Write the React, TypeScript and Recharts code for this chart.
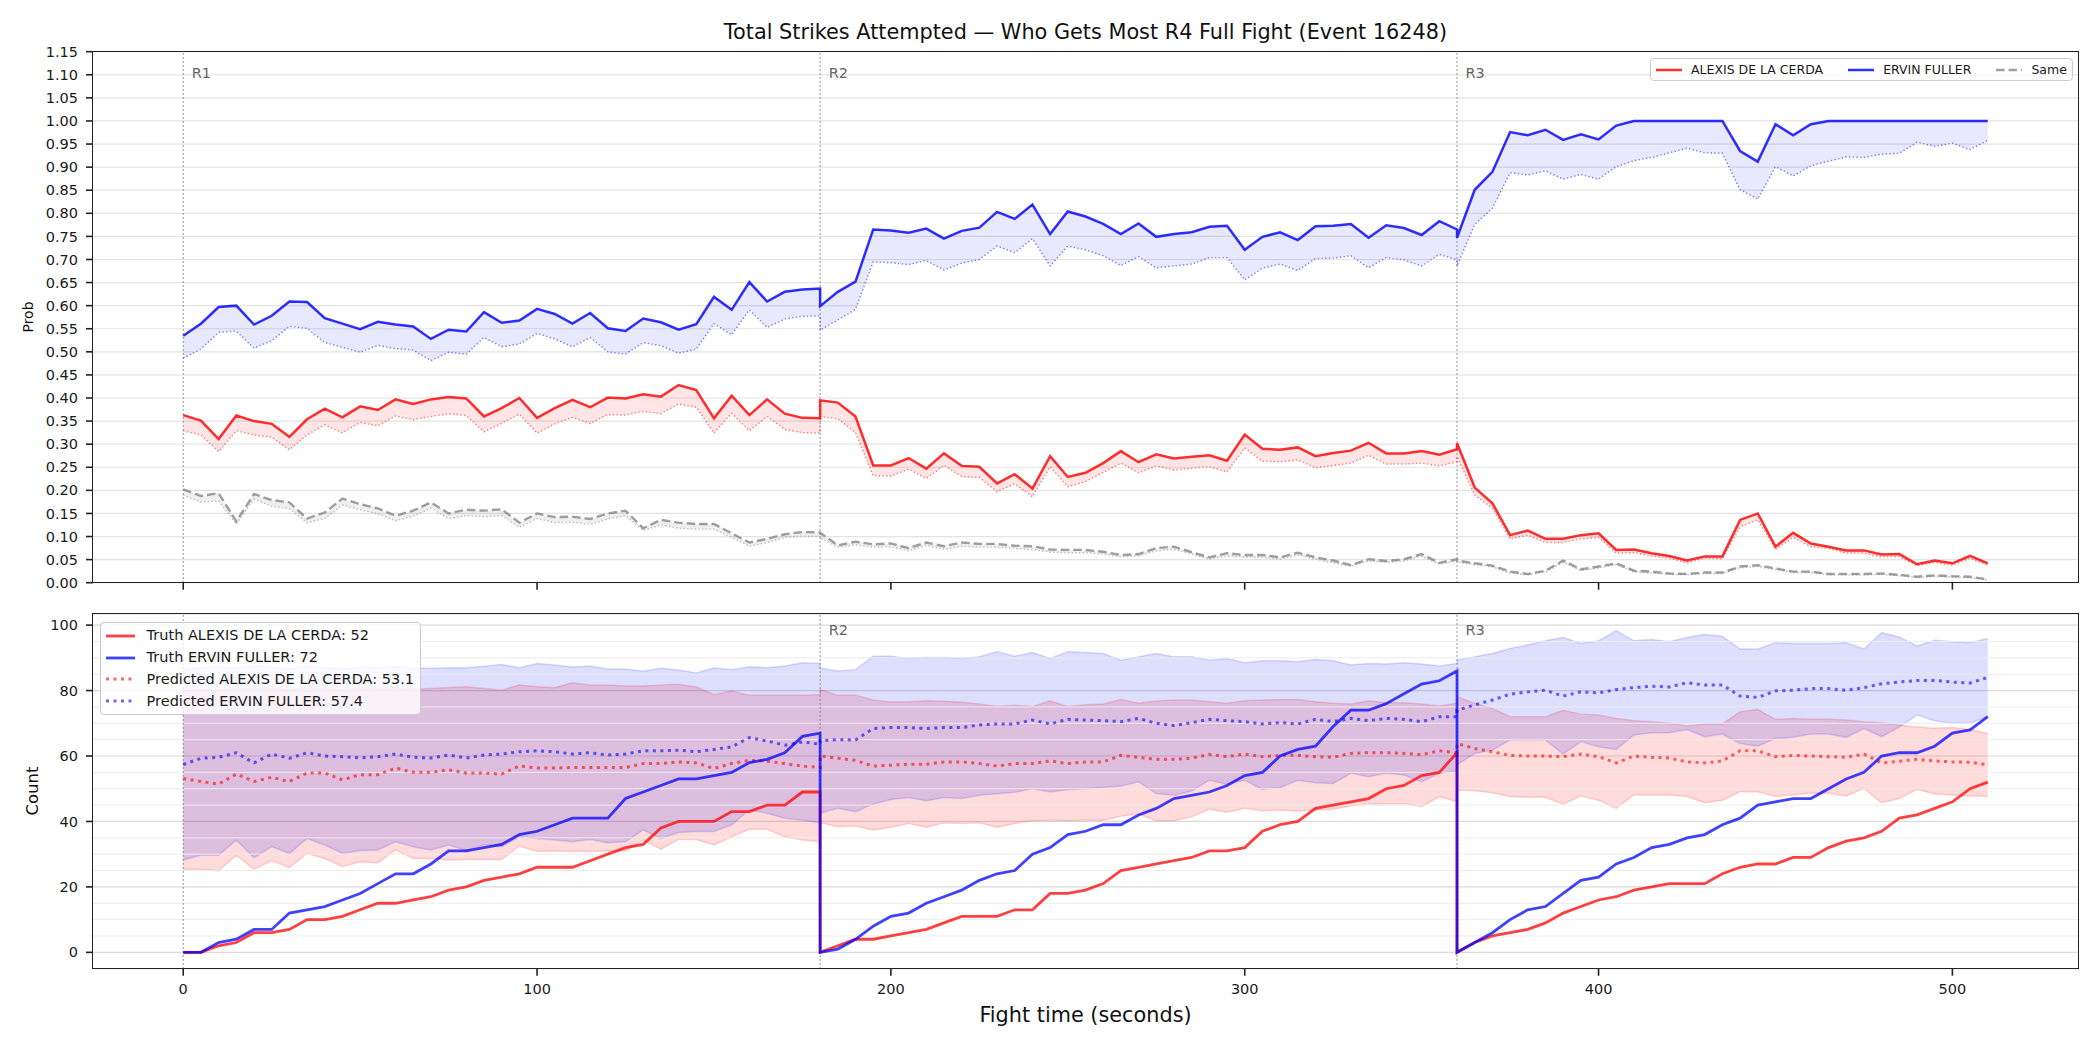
import React from "react";
import {
  ComposedChart,
  Line,
  Area,
  XAxis,
  YAxis,
  CartesianGrid,
  ReferenceLine,
} from "recharts";

const FONT = "'DejaVu Sans', Verdana, sans-serif";
const RED = "#ff0000";
const BLUE = "#0000ff";
const GREY = "#808080";

const fighters = ["ALEXIS DE LA CERDA", "ERVIN FULLER"];
const chartTitle = "Total Strikes Attempted — Who Gets Most R4 Full Fight (Event 16248)";

// fight time in seconds, one row per 5 s; each round restarts at its boundary
const seconds = [
  0, 5, 10, 15, 20, 25, 30, 35, 40, 45, 50, 55, 60, 65, 70, 75, 80, 85, 90, 95,
  100, 105, 110, 115, 120, 125, 130, 135, 140, 145, 150, 155, 160, 165, 170, 175, 180,
  180, 185, 190, 195, 200, 205, 210, 215, 220, 225, 230, 235, 240, 245, 250, 255, 260, 265,
  270, 275, 280, 285, 290, 295, 300, 305, 310, 315, 320, 325, 330, 335, 340, 345, 350, 355, 360,
  360, 365, 370, 375, 380, 385, 390, 395, 400, 405, 410, 415, 420, 425, 430, 435, 440,
  445, 450, 455, 460, 465, 470, 475, 480, 485, 490, 495, 500, 505, 510,
];

const timeTicks = [0, 100, 200, 300, 400, 500];
const probTicks = [
  0, 0.05, 0.1, 0.15, 0.2, 0.25, 0.3, 0.35, 0.4, 0.45, 0.5, 0.55,
  0.6, 0.65, 0.7, 0.75, 0.8, 0.85, 0.9, 0.95, 1.0, 1.05, 1.1, 1.15,
];
const countTicks = [0, 20, 40, 60, 80, 100];
const countMinor = [5, 10, 15, 25, 30, 35, 45, 50, 55, 65, 70, 75, 85, 90, 95];
const roundStarts = [0, 180, 360];
const roundNames = ["R1", "R2", "R3"];

// ---- top panel: probabilities ----
const probRed = [
  .363, .351, .311, .362, .350, .344, .316, .354, .377, .358,
  .382, .374, .397, .387, .397, .402, .399, .360, .378, .400,
  .357, .378, .396, .380, .401, .399, .408, .403, .428, .417,
  .356, .405, .363, .397, .366, .357, .356,
  .395, .390, .360, .254, .254, .270, .247, .280, .253, .251,
  .215, .235, .204, .274, .229, .238, .259, .285, .261, .278,
  .269, .273, .276, .264, .321, .290, .288, .293, .274, .281,
  .286, .303, .280, .280, .285, .277, .289,
  .302, .206, .172, .103, .113, .095, .095, .103, .107, .071,
  .072, .064, .058, .048, .057, .057, .136, .150, .078, .108,
  .085, .078, .070, .070, .061, .062, .040, .048, .042, .058,
  .042,
];
const probRedLo = [
  .329, .320, .284, .329, .320, .315, .288, .320, .342, .325,
  .347, .340, .361, .353, .360, .366, .362, .327, .345, .365,
  .324, .344, .358, .345, .364, .363, .371, .366, .387, .380,
  .324, .367, .329, .360, .332, .325, .324,
  .360, .355, .325, .232, .231, .246, .226, .254, .230, .228,
  .197, .214, .186, .251, .208, .219, .239, .259, .238, .253,
  .244, .248, .251, .240, .292, .263, .262, .266, .249, .254,
  .259, .276, .257, .257, .259, .253, .262,
  .273, .190, .161, .095, .103, .087, .087, .095, .098, .064,
  .065, .058, .053, .043, .053, .052, .121, .136, .072, .098,
  .078, .074, .064, .064, .056, .056, .037, .044, .038, .053,
  .038,
];
const probBlue = [
  .535, .561, .597, .600, .559, .578, .609, .608, .573, .561,
  .549, .565, .559, .555, .528, .548, .544, .586, .563, .568,
  .593, .582, .561, .584, .551, .545, .572, .564, .548, .560,
  .619, .591, .651, .609, .630, .635, .637,
  .599, .630, .652, .765, .763, .758, .767, .745, .762, .769,
  .803, .788, .819, .755, .804, .793, .777, .755, .778, .749,
  .755, .759, .771, .773, .721, .749, .759, .742, .772, .773,
  .777, .747, .774, .768, .753, .783, .765,
  .747, .851, .890, .976, .969, .981, .959, .971, .960, .990,
  1, 1, 1, 1, 1, 1, .935, .912, .993, .969,
  .993, 1, 1, 1, 1, 1, 1, 1, 1, 1,
  1,
];
const probBlueLo = [
  .486, .506, .542, .545, .508, .524, .555, .551, .520, .510,
  .499, .514, .507, .504, .481, .499, .495, .531, .511, .517,
  .540, .528, .511, .531, .500, .495, .520, .513, .497, .506,
  .561, .537, .591, .553, .571, .577, .578,
  .547, .569, .592, .695, .693, .689, .698, .677, .692, .700,
  .729, .715, .745, .686, .729, .721, .708, .687, .706, .682,
  .686, .690, .704, .704, .656, .681, .690, .676, .702, .703,
  .708, .682, .704, .699, .686, .711, .699,
  .686, .776, .811, .888, .883, .892, .874, .884, .874, .901,
  .914, .921, .931, .941, .931, .930, .851, .831, .901, .881,
  .903, .913, .922, .921, .928, .930, .954, .945, .952, .938,
  .958,
];
const probSame = [
  .202, .188, .194, .133, .192, .179, .174, .139, .152, .182,
  .170, .161, .145, .156, .174, .150, .158, .156, .159, .130,
  .150, .142, .143, .138, .150, .156, .118, .136, .130, .127,
  .127, .107, .087, .095, .105, .110, .109,
  .108, .081, .089, .083, .085, .075, .087, .079, .087, .084,
  .084, .080, .079, .072, .071, .071, .067, .060, .062, .075,
  .078, .066, .055, .064, .060, .060, .055, .065, .055, .048,
  .038, .051, .047, .051, .062, .043, .051,
  .048, .042, .037, .024, .019, .026, .048, .029, .035, .042,
  .026, .024, .020, .019, .022, .022, .035, .038, .031, .024,
  .024, .019, .019, .019, .020, .017, .013, .016, .014, .013,
  .007,
];
const probSameLo = [
  .190, .174, .177, .127, .181, .166, .160, .130, .139, .168,
  .158, .149, .134, .144, .161, .139, .145, .143, .145, .120,
  .139, .130, .131, .126, .138, .145, .113, .125, .118, .116,
  .116, .098, .079, .087, .098, .101, .100,
  .097, .077, .082, .077, .078, .069, .081, .072, .079, .077,
  .077, .074, .072, .066, .065, .065, .062, .056, .058, .069,
  .072, .062, .051, .058, .055, .055, .051, .060, .051, .043,
  .036, .047, .044, .047, .057, .040, .047,
  .045, .039, .034, .021, .017, .023, .044, .026, .032, .039,
  .023, .021, .018, .017, .020, .020, .032, .035, .028, .022,
  .022, .017, .017, .017, .018, .015, .011, .014, .012, .011,
  .005,
];

// ---- bottom panel: counts ----
const countRed = [
  0, 0, 2, 3, 6, 6, 7, 10, 10, 11, 13, 15, 15, 16, 17, 19, 20, 22, 23, 24,
  26, 26, 26, 28, 30, 32, 33, 38, 40, 40, 40, 43, 43, 45, 45, 49, 49,
  0, 2, 4, 4, 5, 6, 7, 9, 11, 11, 11, 13, 13, 18, 18, 19, 21, 25, 26, 27,
  28, 29, 31, 31, 32, 37, 39, 40, 44, 45, 46, 47, 50, 51, 54, 55, 61,
  0, 3, 5, 6, 7, 9, 12, 14, 16, 17, 19, 20, 21, 21, 21, 24, 26, 27, 27, 29,
  29, 32, 34, 35, 37, 41, 42, 44, 46, 50, 52,
];
const countBlue = [
  0, 0, 3, 4, 7, 7, 12, 13, 14, 16, 18, 21, 24, 24, 27, 31, 31, 32, 33, 36,
  37, 39, 41, 41, 41, 47, 49, 51, 53, 53, 54, 55, 58, 59, 61, 66, 67,
  0, 1, 4, 8, 11, 12, 15, 17, 19, 22, 24, 25, 30, 32, 36, 37, 39, 39, 42, 44,
  47, 48, 49, 51, 54, 55, 60, 62, 63, 69, 74, 74, 76, 79, 82, 83, 86,
  0, 3, 6, 10, 13, 14, 18, 22, 23, 27, 29, 32, 33, 35, 36, 39, 41, 45, 46, 47,
  47, 50, 53, 55, 60, 61, 61, 63, 67, 68, 72,
];
const predRed = [
  53.1, 52.2, 51.4, 54.5, 52.2, 53.5, 52.2, 54.8, 54.8, 52.7,
  54.3, 54.3, 56.3, 55.0, 55.0, 55.8, 54.8, 54.8, 54.5, 57.0,
  56.3, 56.3, 56.5, 56.5, 56.5, 56.5, 57.7, 57.7, 58.2, 57.9,
  56.2, 57.7, 58.7, 58.4, 57.7, 56.9, 56.5,
  60.0, 59.3, 58.7, 56.9, 57.2, 57.5, 57.5, 58.2, 58.2, 57.7,
  56.9, 57.7, 57.7, 58.5, 57.7, 58.2, 58.2, 60.2, 59.6, 59.0,
  59.0, 59.3, 60.5, 59.8, 60.6, 59.8, 60.2, 60.2, 59.8, 59.6,
  60.8, 61.0, 61.0, 60.8, 60.4, 61.6, 61.0,
  63.8, 62.3, 61.3, 60.2, 60.0, 60.0, 59.8, 60.6, 59.8, 57.9,
  60.0, 59.6, 59.4, 58.2, 57.9, 58.5, 61.6, 61.6, 59.8, 60.2,
  60.0, 59.8, 59.6, 60.6, 57.9, 58.4, 59.0, 58.5, 58.2, 58.1,
  57.3,
];
const predBlue = [
  57.4, 59.3, 59.6, 61.0, 57.9, 60.6, 59.3, 61.0, 60.0, 59.8,
  59.4, 59.8, 60.6, 59.6, 59.4, 60.3, 59.4, 60.3, 60.6, 61.3,
  61.6, 61.3, 60.6, 61.0, 60.3, 60.6, 61.6, 61.6, 61.8, 61.3,
  62.0, 62.8, 65.6, 64.6, 63.3, 64.3, 63.6,
  64.7, 65.0, 64.9, 68.4, 68.7, 68.7, 68.4, 68.7, 68.7, 69.5,
  69.8, 69.8, 71.0, 69.8, 71.2, 71.0, 70.8, 70.5, 71.5, 70.0,
  69.3, 70.2, 71.2, 70.8, 70.5, 69.8, 70.2, 69.8, 71.2, 70.5,
  71.5, 70.8, 71.5, 71.2, 70.5, 72.0, 72.0,
  74.0, 75.6, 77.1, 78.9, 79.6, 80.1, 78.3, 79.6, 79.3, 80.3,
  80.9, 81.3, 81.1, 82.4, 81.7, 81.7, 78.3, 77.9, 79.9, 80.1,
  80.6, 80.6, 80.1, 80.9, 82.1, 82.6, 83.1, 83.1, 82.6, 82.3,
  84.0,
];
const redLo = [
  25.4, 25.4, 24.9, 29.7, 25.4, 28.0, 25.9, 30.2, 28.7, 26.2,
  27.7, 27.4, 31.3, 28.7, 28.7, 28.2, 28.4, 28.4, 28.4, 32.5,
  30.8, 31.0, 30.8, 30.8, 31.0, 31.0, 34.3, 31.5, 34.5, 34.5,
  32.8, 35.3, 37.6, 37.6, 35.3, 34.3, 33.8,
  39.6, 38.4, 38.6, 37.4, 38.2, 39.4, 38.2, 39.6, 39.4, 39.6,
  38.2, 39.4, 40.2, 40.4, 40.2, 40.4, 40.4, 41.6, 42.3, 40.2,
  40.2, 41.4, 43.7, 42.8, 44.0, 43.3, 43.5, 43.2, 43.5, 43.7,
  44.7, 45.3, 45.3, 45.5, 44.5, 47.6, 46.0,
  49.6, 49.4, 48.8, 47.6, 47.4, 47.4, 45.3, 47.8, 46.5, 44.0,
  48.1, 48.1, 48.1, 47.6, 45.7, 46.5, 49.1, 49.1, 47.6, 48.1,
  48.6, 48.6, 47.8, 50.1, 45.7, 47.0, 49.8, 48.4, 48.1, 47.8,
  47.6,
];
const redHi = [
  80.0, 80.3, 80.1, 80.8, 80.4, 80.9, 80.2, 81.0, 80.6, 80.2,
  80.7, 80.3, 80.8, 80.4, 80.6, 80.9, 81.2, 80.6, 80.1, 81.7,
  81.2, 80.9, 82.4, 81.7, 81.7, 81.4, 81.4, 81.7, 81.9, 81.1,
  78.8, 79.9, 78.6, 78.6, 78.6, 78.6, 78.8,
  80.3, 78.6, 78.6, 77.1, 76.5, 76.6, 76.9, 76.7, 76.4, 75.9,
  75.1, 75.5, 75.1, 76.9, 75.1, 75.7, 75.9, 77.3, 76.1, 76.8,
  77.1, 77.1, 76.6, 76.1, 76.9, 77.1, 77.3, 77.3, 76.6, 76.1,
  75.9, 76.9, 76.3, 76.3, 75.9, 75.3, 76.1,
  78.1, 76.1, 74.5, 72.0, 72.0, 72.0, 74.0, 72.8, 72.5, 71.5,
  70.8, 70.5, 70.0, 69.2, 69.8, 69.8, 73.5, 74.2, 71.2, 71.5,
  71.2, 71.2, 71.0, 70.5, 70.2, 69.4, 68.9, 68.5, 68.7, 68.1,
  66.9,
];
const blueLo = [
  28.2, 29.7, 29.7, 34.3, 28.9, 32.3, 30.2, 34.8, 32.8, 30.2,
  31.1, 31.3, 33.8, 32.3, 31.3, 32.8, 31.1, 32.8, 32.3, 35.3,
  34.8, 34.3, 33.8, 34.5, 33.5, 33.8, 37.4, 34.8, 36.6, 36.9,
  36.9, 39.0, 43.5, 42.5, 41.0, 40.4, 39.6,
  42.5, 44.0, 43.0, 45.3, 46.7, 47.3, 46.3, 47.3, 47.0, 48.0,
  48.5, 48.9, 50.0, 49.0, 49.7, 50.0, 50.4, 50.8, 52.1, 48.5,
  48.0, 49.3, 52.6, 51.4, 52.6, 49.8, 50.4, 52.6, 51.8, 51.6,
  54.7, 53.7, 54.7, 54.2, 52.1, 54.7, 55.5,
  57.3, 60.8, 61.8, 64.9, 64.9, 64.9, 60.6, 64.4, 62.8, 62.0,
  66.4, 67.1, 67.1, 68.1, 65.9, 66.7, 63.8, 63.0, 65.4, 65.7,
  66.7, 66.7, 65.7, 68.4, 65.9, 68.9, 72.5, 70.8, 70.0, 70.2,
  72.0,
];
const blueHi = [
  86.5, 86.9, 87.3, 86.8, 87.6, 87.1, 86.7, 87.4, 87.0, 86.6,
  87.2, 86.9, 87.3, 86.9, 86.8, 87.0, 87.0, 87.4, 88.0, 87.0,
  88.3, 87.8, 87.2, 87.5, 86.6, 86.6, 85.9, 86.8, 86.3, 85.4,
  87.0, 86.4, 87.3, 87.0, 87.5, 88.5, 88.3,
  86.8, 86.0, 86.4, 90.5, 90.5, 89.8, 90.1, 90.1, 89.8, 90.3,
  91.9, 90.5, 91.6, 89.8, 91.9, 91.6, 91.3, 89.3, 90.3, 91.3,
  90.3, 90.3, 89.3, 89.8, 88.5, 89.1, 89.1, 88.8, 89.5, 89.1,
  87.8, 88.3, 88.1, 88.5, 88.1, 87.5, 88.3,
  89.3, 90.3, 91.3, 92.9, 93.9, 95.2, 96.2, 94.4, 95.2, 98.3,
  95.2, 95.6, 94.9, 96.2, 97.1, 96.6, 92.7, 92.7, 94.6, 94.4,
  94.4, 94.4, 94.6, 92.7, 97.7, 96.4, 93.6, 95.4, 94.9, 94.6,
  95.9,
];

const rows = seconds.map((t, i) => ({
  t,
  probRed: probRed[i],
  probRedLo: probRedLo[i],
  probBlue: probBlue[i],
  probBlueLo: probBlueLo[i],
  probSame: probSame[i],
  probSameLo: probSameLo[i],
  redBandTop: [probRedLo[i], probRed[i]],
  blueBandTop: [probBlueLo[i], probBlue[i]],
  sameBandTop: [probSameLo[i], probSame[i]],
  countRed: countRed[i],
  countBlue: countBlue[i],
  predRed: predRed[i],
  predBlue: predBlue[i],
  redBand: [redLo[i], redHi[i]],
  blueBand: [blueLo[i], blueHi[i]],
}));

const last = seconds.length - 1;

function RoundTag(props: any) {
  const { viewBox, text } = props;
  if (!viewBox || !text) return null;
  return (
    <text
      x={viewBox.x + 8.5}
      y={viewBox.y + viewBox.height * 0.03 + 10.6}
      fill="#666666"
      fontSize={14.5}
      fontFamily={FONT}
    >
      {text}
    </text>
  );
}

function Swatch({ color, width, dash, w = 26 }: any) {
  return (
    <svg width={w} height={12} style={{ display: "block", flexShrink: 0 }}>
      <line x1={0} y1={6} x2={w} y2={6} stroke={color} strokeWidth={width} strokeDasharray={dash} />
    </svg>
  );
}

const tickStyle = { fontSize: 14.5, fill: "#1a1a1a", fontFamily: FONT };
const axisTickLine = { stroke: "#222", strokeWidth: 1.6 };

function frame(top: number, height: number) {
  return {
    position: "absolute" as const,
    left: 92.2,
    top: top - 0.8,
    width: 1986.6,
    height: height + 1.6,
    border: "1.6px solid #222",
    boxSizing: "border-box" as const,
    pointerEvents: "none" as const,
  };
}

export default function App() {
  return (
    <div
      style={{
        position: "absolute",
        left: 0,
        top: 0,
        width: 2100,
        height: 1050,
        background: "#fff",
        fontFamily: FONT,
        overflow: "hidden",
      }}
    >
      {/* Probability panel */}
      <div style={{ position: "absolute", left: 0, top: 0 }}>
        <ComposedChart
          width={2100}
          height={600}
          data={rows}
          margin={{ top: 51.7, right: 22, bottom: 7.3, left: 33 }}
        >
          <CartesianGrid vertical={false} stroke="#e3e3e3" strokeWidth={1.2} />
          <XAxis
            dataKey="t"
            type="number"
            domain={[-25.5, 535.5]}
            ticks={timeTicks}
            allowDataOverflow
            height={10}
            tickSize={7}
            tickLine={axisTickLine}
            axisLine={false}
            tickFormatter={() => ""}
          />
          <YAxis
            type="number"
            domain={[0, 1.15]}
            ticks={probTicks}
            interval={0}
            allowDataOverflow
            width={60}
            tickSize={7}
            tickMargin={8}
            tick={tickStyle}
            tickLine={axisTickLine}
            axisLine={false}
            tickFormatter={(v: number) => v.toFixed(2)}
          />
          {roundStarts.map((x, i) => (
            <ReferenceLine
              key={"rt" + x}
              x={x}
              stroke="#707070"
              strokeWidth={1}
              strokeDasharray="1.5 2.5"
              label={<RoundTag text={roundNames[i]} />}
            />
          ))}
          <Area type="linear" dataKey="redBandTop" stroke="none" fill={RED} fillOpacity={0.1} isAnimationActive={false} />
          <Area type="linear" dataKey="blueBandTop" stroke="none" fill={BLUE} fillOpacity={0.09} isAnimationActive={false} />
          <Area type="linear" dataKey="sameBandTop" stroke="none" fill={GREY} fillOpacity={0.13} isAnimationActive={false} />
          <Line type="linear" dataKey="probRedLo" stroke={RED} strokeOpacity={0.5} strokeWidth={1.4} strokeDasharray="1.4 2.3" dot={false} activeDot={false} isAnimationActive={false} />
          <Line type="linear" dataKey="probBlueLo" stroke={BLUE} strokeOpacity={0.5} strokeWidth={1.4} strokeDasharray="1.4 2.3" dot={false} activeDot={false} isAnimationActive={false} />
          <Line type="linear" dataKey="probSameLo" stroke={GREY} strokeOpacity={0.5} strokeWidth={1.4} strokeDasharray="1.4 2.3" dot={false} activeDot={false} isAnimationActive={false} />
          <Line type="linear" dataKey="probRed" stroke={RED} strokeOpacity={0.82} strokeWidth={2.5} dot={false} activeDot={false} isAnimationActive={false} />
          <Line type="linear" dataKey="probBlue" stroke={BLUE} strokeOpacity={0.82} strokeWidth={2.5} dot={false} activeDot={false} isAnimationActive={false} />
          <Line type="linear" dataKey="probSame" stroke={GREY} strokeOpacity={0.75} strokeWidth={2.4} strokeDasharray="8.5 4" dot={false} activeDot={false} isAnimationActive={false} />
        </ComposedChart>
      </div>
      <div style={frame(51.7, 531)} />

      {/* Count panel */}
      <div style={{ position: "absolute", left: 0, top: 600 }}>
        <ComposedChart
          width={2100}
          height={450}
          data={rows}
          margin={{ top: 14, right: 22, bottom: 51.3, left: 33 }}
        >
          <CartesianGrid vertical={false} stroke="#dadada" strokeWidth={1.2} />
          {countMinor.map((v) => (
            <ReferenceLine key={"m" + v} y={v} stroke="#ececec" strokeWidth={1} />
          ))}
          <XAxis
            dataKey="t"
            type="number"
            domain={[-25.5, 535.5]}
            ticks={timeTicks}
            allowDataOverflow
            height={30}
            tickSize={7}
            tickMargin={8}
            tick={tickStyle}
            tickLine={axisTickLine}
            axisLine={false}
          />
          <YAxis
            type="number"
            domain={[-5, 103.4]}
            ticks={countTicks}
            interval={0}
            allowDataOverflow
            width={60}
            tickSize={7}
            tickMargin={8}
            tick={tickStyle}
            tickLine={axisTickLine}
            axisLine={false}
          />
          {roundStarts.map((x, i) => (
            <ReferenceLine
              key={"rb" + x}
              x={x}
              stroke="#707070"
              strokeWidth={1}
              strokeDasharray="1.5 2.5"
              label={<RoundTag text={i === 0 ? "" : roundNames[i]} />}
            />
          ))}
          <Area type="linear" dataKey="redBand" stroke={RED} strokeOpacity={0.16} strokeWidth={1.5} fill={RED} fillOpacity={0.14} isAnimationActive={false} />
          <Area type="linear" dataKey="blueBand" stroke={BLUE} strokeOpacity={0.14} strokeWidth={1.5} fill={BLUE} fillOpacity={0.13} isAnimationActive={false} />
          <Line type="linear" dataKey="predRed" stroke={RED} strokeOpacity={0.6} strokeWidth={3} strokeDasharray="3 4.5" dot={false} activeDot={false} isAnimationActive={false} />
          <Line type="linear" dataKey="predBlue" stroke={BLUE} strokeOpacity={0.6} strokeWidth={3} strokeDasharray="3 4.5" dot={false} activeDot={false} isAnimationActive={false} />
          <Line type="linear" dataKey="countRed" stroke={RED} strokeOpacity={0.75} strokeWidth={2.8} dot={false} activeDot={false} isAnimationActive={false} />
          <Line type="linear" dataKey="countBlue" stroke={BLUE} strokeOpacity={0.75} strokeWidth={2.8} dot={false} activeDot={false} isAnimationActive={false} />
        </ComposedChart>
      </div>
      <div style={frame(614, 354.7)} />

      {/* Titles and axis labels */}
      <svg width={2100} height={1050} style={{ position: "absolute", left: 0, top: 0, pointerEvents: "none" }}>
        <text x={1085.5} y={39.3} textAnchor="middle" fontSize={20.8} fill="#111" fontFamily={FONT}>
          {chartTitle}
        </text>
        <text x={1085.5} y={1021.7} textAnchor="middle" fontSize={20.8} fill="#111" fontFamily={FONT}>
          Fight time (seconds)
        </text>
        <text
          transform="translate(33,317) rotate(-90)"
          textAnchor="middle"
          fontSize={14}
          fill="#111"
          fontFamily={FONT}
        >
          Prob
        </text>
        <text
          transform="translate(38,791) rotate(-90)"
          textAnchor="middle"
          fontSize={16.5}
          fill="#111"
          fontFamily={FONT}
        >
          Count
        </text>
      </svg>

      {/* Legend, probability panel */}
      <div
        style={{
          position: "absolute",
          left: 1650,
          top: 58,
          height: 23,
          display: "flex",
          alignItems: "center",
          padding: "0 5px",
          boxSizing: "border-box",
          background: "rgba(255,255,255,0.8)",
          border: "1.2px solid #cccccc",
          borderRadius: 4,
          fontSize: 12.5,
          color: "#1a1a1a",
          whiteSpace: "nowrap",
        }}
      >
        <Swatch color="rgba(255,0,0,0.82)" width={2.5} />
        <span style={{ marginLeft: 9, marginRight: 25 }}>{fighters[0]}</span>
        <Swatch color="rgba(0,0,255,0.82)" width={2.5} />
        <span style={{ marginLeft: 9, marginRight: 25 }}>{fighters[1]}</span>
        <Swatch color="rgba(128,128,128,0.75)" width={2.4} dash="8.5 4" />
        <span style={{ marginLeft: 9 }}>Same</span>
      </div>

      {/* Legend, count panel */}
      <div
        style={{
          position: "absolute",
          left: 100,
          top: 621.7,
          display: "flex",
          flexDirection: "column",
          gap: 7.3,
          padding: "5.8px 6px 5.8px 5px",
          boxSizing: "border-box",
          background: "rgba(255,255,255,0.8)",
          border: "1.2px solid #cccccc",
          borderRadius: 4,
          fontSize: 14.5,
          color: "#1a1a1a",
          whiteSpace: "nowrap",
        }}
      >
        {[
          { c: "rgba(255,0,0,0.75)", w: 2.8, d: undefined, label: `Truth ${fighters[0]}: ${countRed[last]}` },
          { c: "rgba(0,0,255,0.75)", w: 2.8, d: undefined, label: `Truth ${fighters[1]}: ${countBlue[last]}` },
          { c: "rgba(255,0,0,0.6)", w: 3, d: "3 4.5", label: `Predicted ${fighters[0]}: ${predRed[0].toFixed(1)}` },
          { c: "rgba(0,0,255,0.6)", w: 3, d: "3 4.5", label: `Predicted ${fighters[1]}: ${predBlue[0].toFixed(1)}` },
        ].map((item) => (
          <div key={item.label} style={{ display: "flex", alignItems: "center", height: 14.5, lineHeight: "14.5px" }}>
            <Swatch color={item.c} width={item.w} dash={item.d} w={29} />
            <span style={{ marginLeft: 11.6 }}>{item.label}</span>
          </div>
        ))}
      </div>
    </div>
  );
}
